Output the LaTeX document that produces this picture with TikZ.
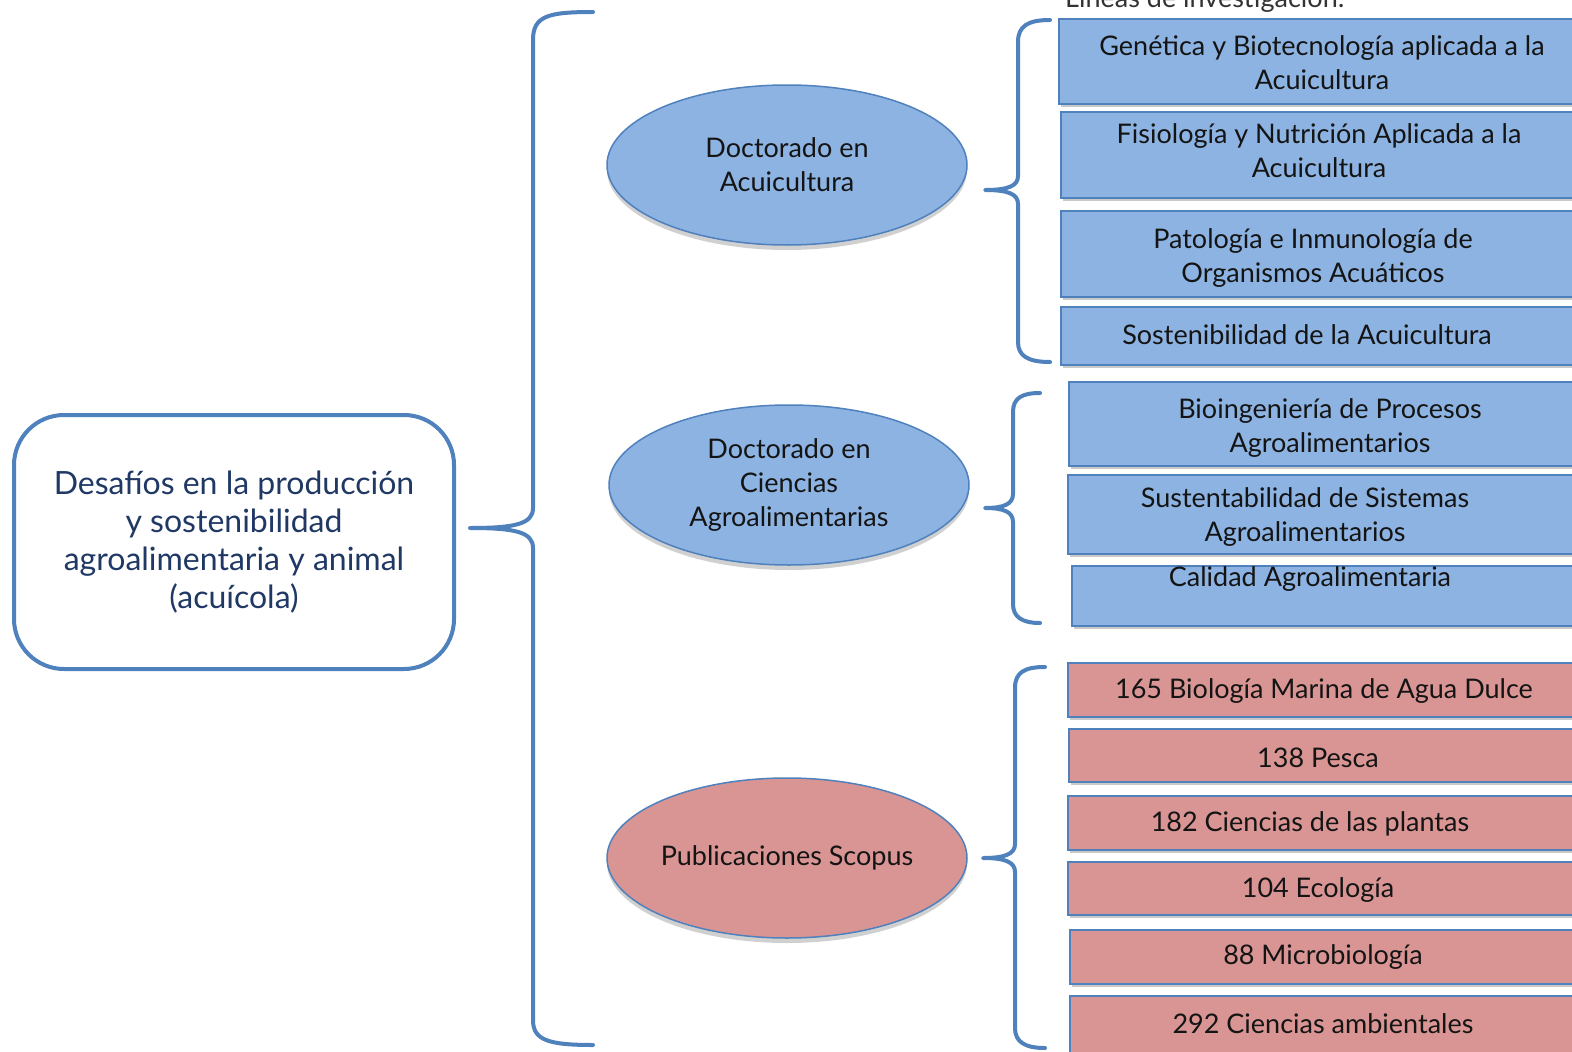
\documentclass[tikz,border=0pt]{standalone}
\usepackage{fontspec}
\setmainfont{Lato}
\usetikzlibrary{shapes.geometric,shadows}
\definecolor{bord}{HTML}{4F81BD}
\definecolor{bluef}{HTML}{8DB3E2}
\definecolor{redf}{HTML}{D99594}
\definecolor{navy}{HTML}{1F3864}
\definecolor{txtc}{HTML}{141414}
\tikzset{
  boxshadow/.style={drop shadow={shadow xshift=2pt,shadow yshift=-3pt,opacity=0.35,fill=black!60}},
  lbox/.style={draw=bord,line width=1.6pt,rectangle,anchor=north west,inner sep=0pt,minimum width=600pt,boxshadow},
  bbox/.style={lbox,fill=bluef},
  rbox/.style={lbox,fill=redf},
  btxt/.style={align=center,inner sep=0pt,text=txtc,font=\fontsize{27}{34}\selectfont},
  ell/.style={ellipse,draw=bord,line width=1.5pt,minimum width=360pt,minimum height=160pt,inner sep=0pt,align=center,text=txtc,font=\fontsize{27}{34}\selectfont,drop shadow={shadow xshift=0pt,shadow yshift=-5pt,opacity=0.3,fill=black!60}},
  brace/.style={draw=bord,line width=4pt,line cap=round,line join=round}
}
\begin{document}
\begin{tikzpicture}[x=1pt,y=-1pt]
\useasboundingbox (0,0) rectangle (1572,1052);
\fill[white] (0,0) rectangle (1572,1052);
% header
\node[anchor=base west,inner sep=0pt,text=black!80,font=\fontsize{27}{34}\selectfont] (hdr) at (1065,7) {Líneas de investigación:};
% left box
\node[draw=bord,line width=4pt,rounded corners=50pt,minimum width=440pt,minimum height=254pt,align=center,text=navy,font=\fontsize{32}{38}\selectfont,inner sep=0pt] (main) at (234,542) {Desafíos en la producción\\y sostenibilidad\\agroalimentaria y animal\\(acuícola)};
% ellipses
\node[ell,fill=bluef] (e1) at (787,165) {Doctorado en\\Acuicultura};
\node[ell,fill=bluef] (e2) at (789,485) {Doctorado en\\Ciencias\\Agroalimentarias};
\node[ell,fill=redf] (e3) at (787,858) {Publicaciones Scopus};
% blue boxes
\node[bbox,minimum height=85pt] (b1) at (1058,18) {};
\node[btxt] (t1) at (1322,63) {Genética y Biotecnología aplicada a la\\Acuicultura};
\node[bbox,minimum height=86pt] (b2) at (1060,111) {};
\node[btxt] (t2) at (1319,151) {Fisiología y Nutrición Aplicada a la\\Acuicultura};
\node[bbox,minimum height=86pt] (b3) at (1060,210) {};
\node[btxt] (t3) at (1313,258) {Patología e Inmunología de\\Organismos Acuáticos};
\node[bbox,minimum height=58pt] (b4) at (1060,306) {};
\node[btxt] (t4) at (1307,335) {Sostenibilidad de la Acuicultura};
\node[bbox,minimum height=84pt] (b5) at (1068,381) {};
\node[btxt] (t5) at (1330,428) {Bioingeniería de Procesos\\Agroalimentarios};
\node[bbox,minimum height=79pt] (b6) at (1067,474) {};
\node[btxt] (t6) at (1305,517) {Sustentabilidad de Sistemas\\Agroalimentarios};
\node[bbox,minimum height=60pt] (b7) at (1071,565) {};
\node[btxt] (t7) at (1310,579) {Calidad Agroalimentaria};
% red boxes
\node[rbox,minimum height=54pt] (r1) at (1067,662) {};
\node[btxt] (s1) at (1324,691) {165 Biología Marina de Agua Dulce};
\node[rbox,minimum height=53pt] (r2) at (1068,728) {};
\node[btxt] (s2) at (1318,758) {138 Pesca};
\node[rbox,minimum height=54pt] (r3) at (1067,795) {};
\node[btxt] (s3) at (1310,824) {182 Ciencias de las plantas};
\node[rbox,minimum height=53pt] (r4) at (1067,861) {};
\node[btxt] (s4) at (1318,890) {104 Ecología};
\node[rbox,minimum height=54pt] (r5) at (1069,929) {};
\node[btxt] (s5) at (1323,957) {88 Microbiología};
\node[rbox,minimum height=70pt] (r6) at (1069,995) {};
\node[btxt] (s6) at (1323,1024) {292 Ciencias ambientales};
% big brace
\coordinate (bt) at (593,12);
\coordinate (btip) at (470,528);
\coordinate (bb) at (593,1045);
\draw[brace] (bt) .. controls (548,12) and (533,16) .. (533,40) -- (533,508) .. controls (533,524) and (515,528) .. (btip)
  .. controls (515,528) and (533,532) .. (533,548) -- (533,1020) .. controls (533,1040) and (548,1045) .. (bb);
% brace 2
\coordinate (ct) at (1050,20);
\coordinate (ctip) at (985,190);
\coordinate (cb) at (1050,362);
\draw[brace] (ct) .. controls (1028,20) and (1018,26) .. (1018,42) -- (1018,176) .. controls (1018,186) and (1008,190) .. (ctip)
  .. controls (1008,190) and (1018,194) .. (1018,204) -- (1018,342) .. controls (1018,356) and (1028,362) .. (cb);
% brace 3
\coordinate (dt) at (1040,393);
\coordinate (dtip) at (985,508);
\coordinate (db) at (1040,623);
\draw[brace] (dt) .. controls (1022,393) and (1013,398) .. (1013,412) -- (1013,494) .. controls (1013,504) and (1004,508) .. (dtip)
  .. controls (1004,508) and (1013,512) .. (1013,522) -- (1013,604) .. controls (1013,617) and (1022,623) .. (db);
% brace 4
\coordinate (ft) at (1045,667);
\coordinate (ftip) at (983,858);
\coordinate (fb) at (1045,1048);
\draw[brace] (ft) .. controls (1025,667) and (1015,672) .. (1015,688) -- (1015,844) .. controls (1015,854) and (1005,858) .. (ftip)
  .. controls (1005,858) and (1015,862) .. (1015,872) -- (1015,1028) .. controls (1015,1042) and (1025,1048) .. (fb);
\end{tikzpicture}
\end{document}
